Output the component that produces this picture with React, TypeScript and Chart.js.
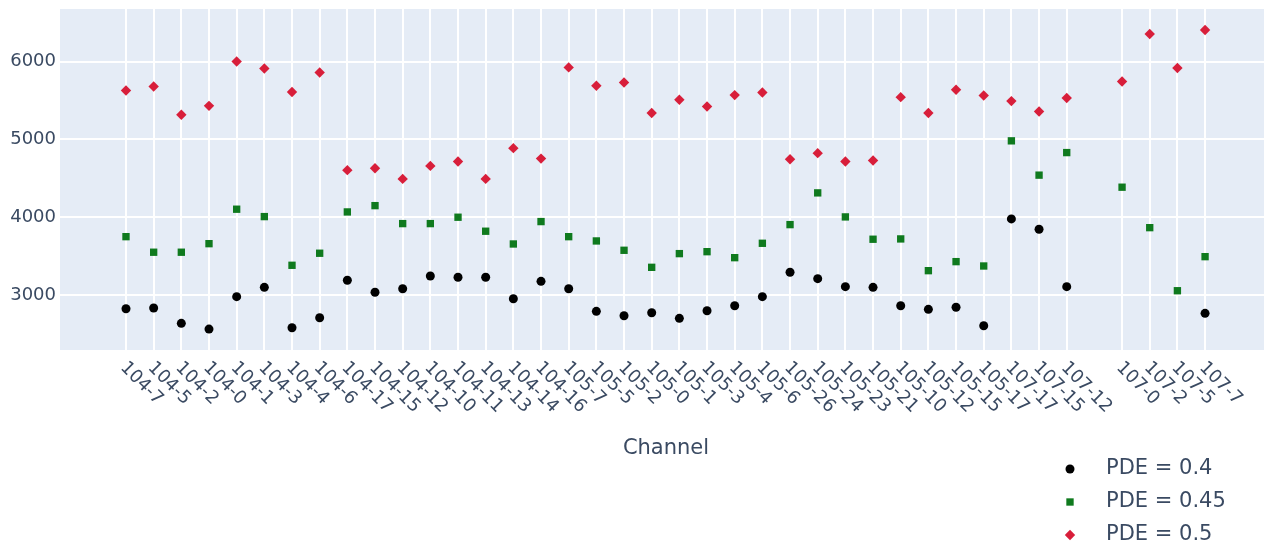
import { useEffect, useRef } from 'react';
import { Chart, registerables } from 'chart.js';

Chart.register(...registerables);

// Channel names along the x axis; the empty entry is an unused slot between 107-12 and 107-0.
const channels = [
  '104-7', '104-5', '104-2', '104-0', '104-1', '104-3', '104-4', '104-6',
  '104-17', '104-15', '104-12', '104-10', '104-11', '104-13', '104-14', '104-16',
  '105-7', '105-5', '105-2', '105-0', '105-1', '105-3', '105-4', '105-6',
  '105-26', '105-24', '105-23', '105-21', '105-10', '105-12', '105-15', '105-17',
  '107-17', '107-15', '107-12', '', '107-0', '107-2', '107-5', '107-7',
];

const pde040: (number | null)[] = [
  2824, 2833, 2636, 2562, 2979, 3099, 2579, 2708,
  3189, 3035, 3081, 3245, 3228, 3228, 2952, 3176,
  3081, 2790, 2734, 2772, 2700, 2798, 2862, 2979,
  3292, 3210, 3107, 3099, 2862, 2816, 2842, 2605,
  3978, 3845, 3107, null, null, null, null, 2764,
];

const pde045: (number | null)[] = [
  3750, 3550, 3550, 3660, 4103, 4008, 3382, 3537,
  4068, 4149, 3918, 3918, 4000, 3820, 3656, 3944,
  3750, 3695, 3575, 3356, 3532, 3557, 3480, 3665,
  3905, 4313, 4004, 3717, 3721, 3313, 3429, 3373,
  4982, 4541, 4831, null, 4386, 3866, 3055, 3493,
];

const pde050: (number | null)[] = [
  5629, 5681, 5317, 5432, 6003, 5913, 5609, 5861,
  4605, 4630, 4493, 4660, 4716, 4493, 4888, 4754,
  5926, 5690, 5732, 5339, 5510, 5424, 5570, 5604,
  4745, 4824, 4716, 4729, 5544, 5339, 5638, 5565,
  5493, 5359, 5532, null, 5745, 6355, 5918, 6407,
];

const yTicks = [3000, 4000, 5000, 6000];
const seriesNames = ['PDE = 0.4', 'PDE = 0.45', 'PDE = 0.5'];
const axisTitle = 'Channel';

const FONT = '"DejaVu Sans", Verdana, sans-serif';
const TEXT = '#3a4a62';
const PLOT_BG = '#e5ecf6';

const styles = [
  { color: '#000000', pointStyle: 'circle', radius: 4.5 },
  { color: '#0f7a1e', pointStyle: 'rect', radius: 5.2 },
  { color: '#d81e3a', pointStyle: 'rectRot', radius: 5.2 },
];

const toPoints = (vals: (number | null)[]) =>
  vals
    .map((v, i) => (v == null ? null : { x: i, y: v }))
    .filter((p) => p !== null) as { x: number; y: number }[];

// marker shape for the legend rows, same geometry as the chart's point styles
function markerPath(ctx: CanvasRenderingContext2D, style: string, r: number, x: number, y: number) {
  ctx.beginPath();
  if (style === 'circle') {
    ctx.arc(x, y, r, 0, Math.PI * 2);
  } else if (style === 'rect') {
    const h = Math.SQRT1_2 * r;
    ctx.rect(x - h, y - h, 2 * h, 2 * h);
  } else {
    ctx.moveTo(x, y - r);
    ctx.lineTo(x + r, y);
    ctx.lineTo(x, y + r);
    ctx.lineTo(x - r, y);
    ctx.closePath();
  }
}

const decorations = {
  id: 'decorations',
  beforeDraw(chart: any) {
    const { ctx, chartArea } = chart;
    ctx.save();
    ctx.fillStyle = PLOT_BG;
    ctx.fillRect(chartArea.left, chartArea.top, chartArea.right - chartArea.left, chartArea.bottom - chartArea.top);
    ctx.restore();
  },
  afterDraw(chart: any) {
    const { ctx, chartArea } = chart;
    const xs = chart.scales.x;
    ctx.save();
    ctx.fillStyle = TEXT;
    ctx.font = `18px ${FONT}`;
    ctx.textAlign = 'left';
    ctx.textBaseline = 'middle';
    channels.forEach((name, i) => {
      if (!name) return;
      const px = xs.getPixelForValue(i);
      ctx.save();
      ctx.translate(px - 3, chartArea.bottom + 15);
      ctx.rotate(Math.PI / 4);
      ctx.fillText(name, 0, 0);
      ctx.restore();
    });

    // axis title
    ctx.font = `21px ${FONT}`;
    ctx.textAlign = 'center';
    ctx.fillText(axisTitle, chartArea.left + (chartArea.right + 8 - chartArea.left) / 2, 449);

    // legend
    const rowY = [469, 502, 535];
    ctx.textAlign = 'left';
    seriesNames.forEach((name, k) => {
      const st = styles[k];
      markerPath(ctx, st.pointStyle, st.radius, 1070, rowY[k]);
      ctx.fillStyle = st.color;
      ctx.fill();
      ctx.fillStyle = TEXT;
      ctx.fillText(name, 1106, rowY[k]);
    });
    ctx.restore();
  },
};

export default function App() {
  const canvasRef = useRef<HTMLCanvasElement | null>(null);

  useEffect(() => {
    document.body.style.margin = '0';
    const canvas = canvasRef.current;
    if (!canvas) return;
    const series = [pde040, pde045, pde050];
    const chart = new Chart(canvas, {
      type: 'scatter',
      data: {
        datasets: series.map((vals, k) => ({
          label: seriesNames[k],
          data: toPoints(vals),
          pointStyle: styles[k].pointStyle as any,
          pointRadius: styles[k].radius,
          pointHoverRadius: styles[k].radius,
          pointBackgroundColor: styles[k].color,
          pointBorderWidth: 0,
          borderColor: styles[k].color,
          backgroundColor: styles[k].color,
          showLine: false,
        })),
      },
      options: {
        animation: false,
        responsive: false,
        events: [],
        layout: { autoPadding: false, padding: { top: 9, left: 0, right: 0, bottom: 0 } },
        plugins: {
          legend: { display: false },
          tooltip: { enabled: false },
        },
        scales: {
          x: {
            type: 'linear',
            min: -2.385,
            max: 41.13,
            afterBuildTicks: (scale: any) => {
              scale.ticks = channels.map((_, i) => ({ value: i }));
            },
            afterFit: (scale: any) => {
              scale.height = 197;
              scale.paddingLeft = 0;
              scale.paddingRight = 0;
            },
            ticks: { display: false },
            border: { display: false },
            grid: {
              drawTicks: false,
              lineWidth: 2,
              color: (c: any) => (channels[c.tick?.value] ? '#ffffff' : 'rgba(0,0,0,0)'),
            },
          },
          y: {
            type: 'linear',
            min: 2293,
            max: 6677,
            afterBuildTicks: (scale: any) => {
              scale.ticks = yTicks.map((v) => ({ value: v }));
            },
            afterFit: (scale: any) => {
              scale.width = 60;
              scale.paddingTop = 0;
              scale.paddingBottom = 0;
            },
            ticks: {
              padding: 4,
              color: TEXT,
              font: { family: FONT, size: 18 },
              callback: (v: any) => String(v),
            },
            border: { display: false },
            grid: { drawTicks: false, lineWidth: 2, color: '#ffffff' },
          },
        },
      },
      plugins: [decorations],
    });
    return () => chart.destroy();
  }, []);

  return <canvas ref={canvasRef} width={1264} height={547} style={{ display: 'block' }} />;
}
